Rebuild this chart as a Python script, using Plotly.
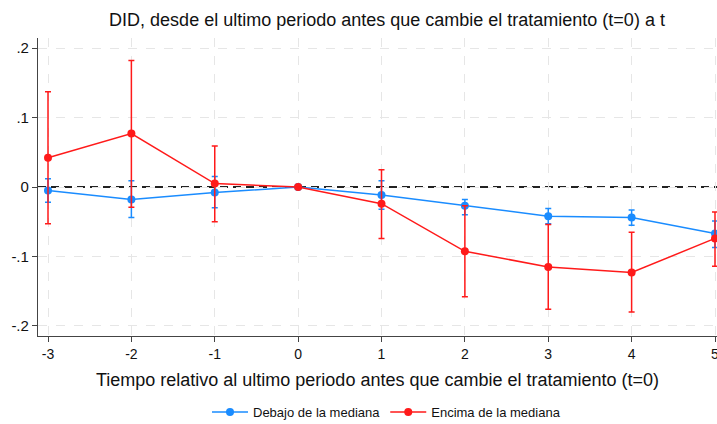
import plotly.graph_objects as go

periods = [-3, -2, -1, 0, 1, 2, 3, 4, 5]
xtick_text = ["-3", "-2", "-1", "0", "1", "2", "3", "4", "5"]

below = [-0.005, -0.018, -0.008, 0.0, -0.0115, -0.027, -0.042, -0.044, -0.067]
below_hi = [0.012, 0.009, 0.015, 0.0, 0.009, -0.018, -0.031, -0.033, -0.049]
below_lo = [-0.022, -0.044, -0.030, 0.0, -0.032, -0.040, -0.053, -0.055, -0.087]

above = [0.042, 0.077, 0.005, 0.0, -0.024, -0.0925, -0.115, -0.123, -0.074]
above_hi = [0.137, 0.182, 0.059, 0.0, 0.025, -0.027, -0.054, -0.065, -0.036]
above_lo = [-0.053, -0.029, -0.050, 0.0, -0.074, -0.158, -0.176, -0.180, -0.114]

ytick_vals = [-0.2, -0.1, 0, 0.1, 0.2]
ytick_text = ["-.2", "-.1", "0", ".1", ".2"]

title = "DID, desde el ultimo periodo antes que cambie el tratamiento (t=0) a t"
xtitle = "Tiempo relativo al ultimo periodo antes que cambie el tratamiento (t=0)"

BLUE = "#1a8cff"
RED = "#ff1a1a"
FONT = "Liberation Sans, Arial, sans-serif"

fig = go.Figure()

def add_series(y, hi, lo, color, name):
    fig.add_trace(go.Scatter(
        x=periods, y=y, name=name, mode="lines+markers",
        line=dict(color=color, width=1.5),
        marker=dict(color=color, size=8),
        error_y=dict(type="data", symmetric=False,
                     array=[h - v for h, v in zip(hi, y)],
                     arrayminus=[v - l for v, l in zip(y, lo)],
                     color=color, thickness=1.5, width=3),
        cliponaxis=False,
    ))

fig.add_hline(y=0, line=dict(color="#222222", width=1.8, dash="8px,5px"), layer="below")

add_series(below, below_hi, below_lo, BLUE, "Debajo de la mediana")
add_series(above, above_hi, above_lo, RED, "Encima de la mediana")

fig.update_layout(
    width=717, height=424,
    margin=dict(l=38, r=0, t=38, b=88, autoexpand=False),
    paper_bgcolor="white", plot_bgcolor="white",
    font=dict(family=FONT, color="#111111"),
    title=dict(text=title, x=387 / 717, xanchor="center", y=1 - 20 / 424, yanchor="middle",
               font=dict(size=18, family=FONT)),
    showlegend=True,
    legend=dict(orientation="h", x=368 / 717, xanchor="center", y=-0.255, yanchor="middle",
                font=dict(size=13, family=FONT), itemwidth=36),
    xaxis=dict(range=[-3.12, 5.024], tickvals=periods, ticktext=xtick_text,
               ticks="outside", ticklen=5, ticklabeloverflow="allow",
               tickcolor="#444444", showline=True, linecolor="#444444", linewidth=1.2,
               showgrid=True, gridcolor="#e6e6e6", griddash="dash", gridwidth=1,
               zeroline=False, tickfont=dict(size=14), automargin=False,
               title=dict(text=xtitle, font=dict(size=18), standoff=12)),
    yaxis=dict(range=[-0.2144, 0.2144], tickvals=ytick_vals, ticktext=ytick_text,
               ticks="outside", ticklen=5, tickcolor="#444444", showline=True,
               linecolor="#444444", linewidth=1.2, showgrid=True, gridcolor="#e6e6e6",
               griddash="dash", gridwidth=1, zeroline=False, tickfont=dict(size=15),
               automargin=False),
)

fig.write_html("out.html", config={"displayModeBar": False},
               post_script="document.body.style.margin='0';document.body.style.overflow='hidden';")
